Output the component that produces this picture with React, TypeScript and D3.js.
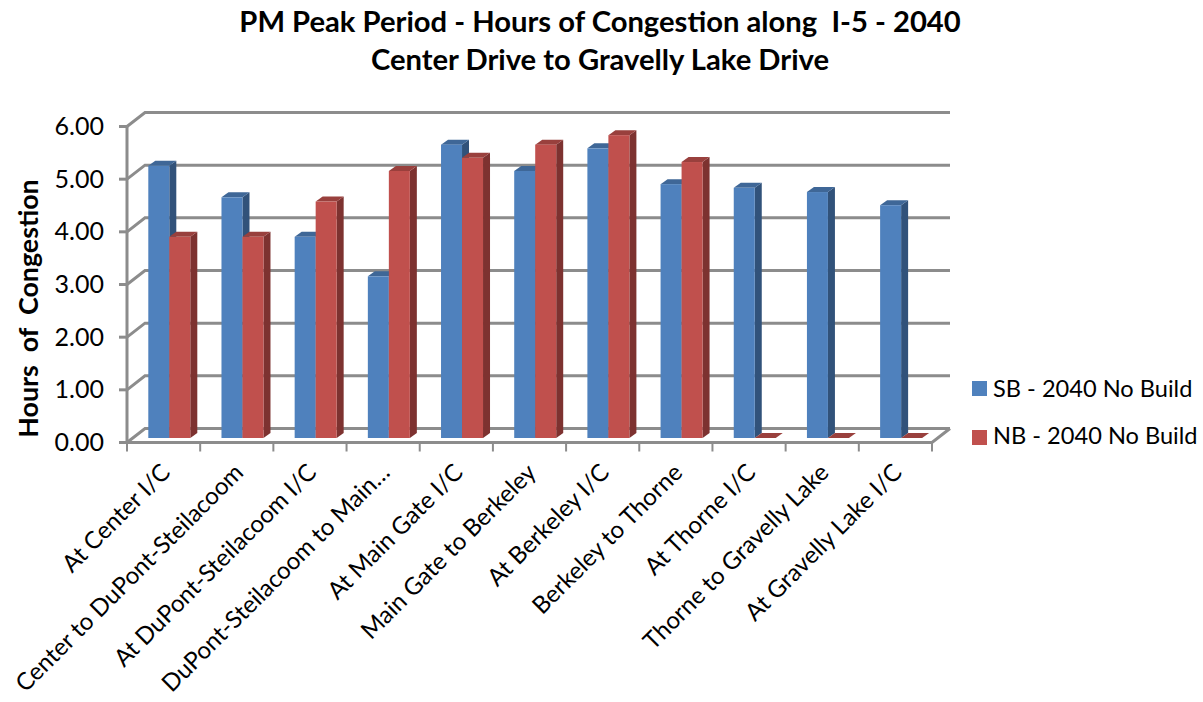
import React from "react";
import * as d3 from "d3";

const categories = ["At Center I/C","Center to DuPont-Steilacoom","At DuPont-Steilacoom I/C","DuPont-Steilacoom to Main…","At Main Gate I/C","Main Gate to Berkeley","At Berkeley I/C","Berkeley to Thorne","At Thorne I/C","Thorne to Gravelly Lake","At Gravelly Lake I/C"];
const sbValues = [5.17,4.57,3.82,3.07,5.57,5.07,5.5,4.82,4.75,4.67,4.42];
const nbValues = [3.82,3.82,4.49,5.07,5.32,5.57,5.75,5.24,0,0,0];
const yTicks = [0,1,2,3,4,5,6];
const titleLines = ["PM Peak Period - Hours of Congestion along  I-5 - 2040","Center Drive to Gravelly Lake Drive"];
const seriesNames = ["SB - 2040 No Build","NB - 2040 No Build"];
const yTitle = "Hours  of  Congestion";

const font = "Lato, Carlito, sans-serif";
const GREY = "#8c8c8c";
const x = d3.scaleBand<number>().domain(d3.range(categories.length)).range([127, 932]);
const y = d3.scaleLinear().domain([0, 6]).range([442.5, 126.5]);
const wall = { dx: 18, dy: -14 };
const barOff = { dx: 4.5, dy: -4.5 };
const barDepth = { dx: 7, dy: -5 };
const colors = [
  { front: "#4f81bd", top: "#3f6797", side: "#31527a" },
  { front: "#c0504d", top: "#99403d", side: "#7d3230" },
];

function Bar({ x0, w, v, c }: { x0: number; w: number; v: number; c: typeof colors[number] }) {
  const base = y(0) + barOff.dy;
  const top = base - (y(0) - y(v));
  const { dx, dy } = barDepth;
  const p = (pts: number[][]) => pts.map((q) => q.join(",")).join(" ");
  return (
    <g>
      <polygon points={p([[x0 + w, top], [x0 + w + dx, top + dy], [x0 + w + dx, base + dy], [x0 + w, base]])} fill={c.side} />
      <polygon points={p([[x0, top], [x0 + dx, top + dy], [x0 + w + dx, top + dy], [x0 + w, top]])} fill={c.top} />
      {v > 0 && <rect x={x0} y={top} width={w} height={base - top} fill={c.front} />}
    </g>
  );
}

export default function App() {
  const band = x.bandwidth();
  const barW = 21;
  const left = x.range()[0];
  const right = x.range()[1];
  return (
    <svg width={1203} height={702} style={{ position: "absolute", left: 0, top: 0, background: "#fff" }} fontFamily={font}>
      {titleLines.map((t, i) => (
        <text key={i} x={600} y={32 + i * 38} textAnchor="middle" fontSize={29.2} fontWeight={700} fill="#000" style={{ whiteSpace: "pre" }}>{t}</text>
      ))}
      {yTicks.map((t) => (
        <g key={t} stroke={GREY} strokeWidth={3} fill="none">
          <polyline points={`${left},${y(t)} ${left + wall.dx},${y(t) + wall.dy} ${right + wall.dx},${y(t) + wall.dy}`} />
          <line x1={left - 8} x2={left} y1={y(t)} y2={y(t)} />
        </g>
      ))}
      <polyline points={`${left},${y(0)} ${right},${y(0)} ${right + wall.dx},${y(0) + wall.dy}`} stroke={GREY} strokeWidth={3} fill="none" />
      <line x1={left} x2={left} y1={y(6)} y2={y(0)} stroke={GREY} strokeWidth={3} />
      {d3.range(categories.length + 1).map((i) => {
        const tx = left + i * band;
        return <line key={i} x1={tx} x2={tx} y1={y(0)} y2={y(0) + 9} stroke={GREY} strokeWidth={2} />;
      })}
      {categories.map((_, i) => {
        const x0 = (x(i) as number) + 21.3;
        return (
          <g key={i}>
            <Bar x0={x0} w={barW} v={sbValues[i]} c={colors[0]} />
            <Bar x0={x0 + barW} w={barW} v={nbValues[i]} c={colors[1]} />
          </g>
        );
      })}
      {yTicks.map((t) => (
        <text key={t} x={104} y={y(t) + 8.5} textAnchor="end" fontSize={25} fill="#000">{t.toFixed(2)}</text>
      ))}
      <text transform="translate(38,308.5) rotate(-90)" textAnchor="middle" fontSize={26.8} fontWeight={700} fill="#000" style={{ whiteSpace: "pre" }}>{yTitle}</text>
      {categories.map((c, i) => (
        <text key={c} transform={`translate(${(x(i) as number) + band / 2 + 8},${474}) rotate(-45)`} textAnchor="end" fontSize={24} fill="#000">{c}</text>
      ))}
      {seriesNames.map((s, i) => (
        <g key={s}>
          <rect x={972} y={381 + i * 49} width={15} height={15} fill={colors[i].front} />
          <text x={993} y={396.7 + i * 47.5} fontSize={23.6} fill="#000">{s}</text>
        </g>
      ))}
    </svg>
  );
}
